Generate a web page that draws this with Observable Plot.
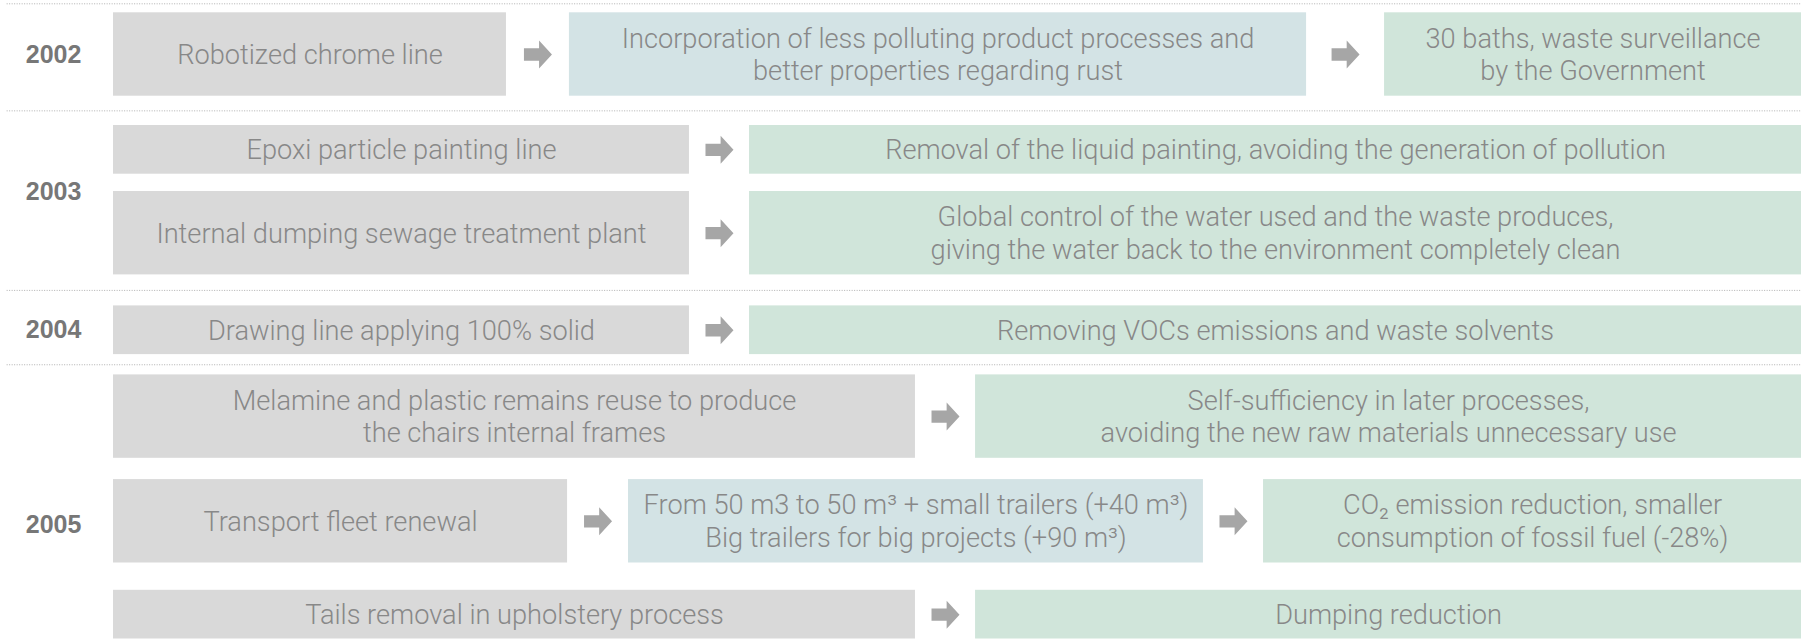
<!DOCTYPE html>
<html>
<head>
<meta charset="utf-8">
<script src="https://cdn.jsdelivr.net/npm/d3@7"></script>
<script src="https://cdn.jsdelivr.net/npm/@observablehq/plot@0.6"></script>
<style>
  html, body { margin: 0; padding: 0; background: #ffffff; }
  #chart svg { display: block; }
</style>
</head>
<body>
<div id="chart"></div>
<script>
// ---------------- DATA ----------------
const years = ["2002", "2003", "2004", "2005"];
const rowYear = ["2002", "2003", "2003", "2004", "2005", "2005", "2005"];
const rowSteps = [
  ["Robotized chrome line",
   "Incorporation of less polluting product processes and\nbetter properties regarding rust",
   "30 baths, waste surveillance\nby the Government"],
  ["Epoxi particle painting line",
   "Removal of the liquid painting, avoiding the generation of pollution"],
  ["Internal dumping sewage treatment plant",
   "Global control of the water used and the waste produces,\ngiving the water back to the environment completely clean"],
  ["Drawing line applying 100% solid",
   "Removing VOCs emissions and waste solvents"],
  ["Melamine and plastic remains reuse to produce\nthe chairs internal frames",
   "Self-sufficiency in later processes,\navoiding the new raw materials unnecessary use"],
  ["Transport fleet renewal",
   "From 50 m3 to 50 m\u00B3 + small trailers (+40 m\u00B3)\nBig trailers for big projects (+90 m\u00B3)",
   "CO\u2082 emission reduction, smaller\nconsumption of fossil fuel (-28%)"],
  ["Tails removal in upholstery process",
   "Dumping reduction"]
];
const rowKinds = [
  ["action", "measure", "result"],
  ["action", "result"],
  ["action", "result"],
  ["action", "result"],
  ["action", "result"],
  ["action", "measure", "result"],
  ["action", "result"]
];
const kindNames = ["action", "measure", "result"];

// ---------------- LAYOUT / STYLE ----------------
const kindColors = ["#d9d9d9", "#d3e3e5", "#d0e5da"];
// box boundaries along a 0–100 track, per row: [start, end, start, end, ...]
const colBounds = [
  [0, 23.28, 27.01, 70.68, 75.30, 100],
  [0, 34.12, 37.68, 100],
  [0, 34.12, 37.68, 100],
  [0, 34.12, 37.68, 100],
  [0, 47.51, 51.07, 100],
  [0, 26.90, 30.51, 64.57, 68.13, 100],
  [0, 47.51, 51.07, 100]
];
const rowGap = [12.3, 29.3, 17.3, 31, 20.3, 21.3, 27.3]; // space before each row
const boxHeightByLines = [0, 48.7, 83.4];
const yearAnchorRow = [0, 1.5, 3, 5.04];
const topRule = 3.3;
const yearX = -3.55, ruleX1 = -6.3;
const W = 1812, H = 642;

// ---------------- BUILD ----------------
const boxes = [], arrows = [], rowCenters = [], rowTops = [], rowBottoms = [];
let cursor = 0;
rowSteps.forEach((steps, i) => {
  const lines = Math.max(...steps.map(t => t.split("\n").length));
  const y1 = cursor + rowGap[i];
  const y2 = y1 + boxHeightByLines[lines];
  cursor = y2;
  rowTops.push(y1); rowBottoms.push(y2); rowCenters.push((y1 + y2) / 2);
  steps.forEach((text, j) => {
    boxes.push({
      year: rowYear[i], text, kind: rowKinds[i][j],
      x1: colBounds[i][2 * j], x2: colBounds[i][2 * j + 1], y1, y2
    });
    if (j < steps.length - 1) {
      arrows.push({x: (colBounds[i][2 * j + 1] + colBounds[i][2 * j + 2]) / 2, y: (y1 + y2) / 2});
    }
  });
});
const separators = [topRule];
for (let i = 1; i < rowYear.length; i++) {
  if (rowYear[i] !== rowYear[i - 1]) separators.push((rowBottoms[i - 1] + rowTops[i]) / 2);
}
const yearLabels = years.map((yr, k) => {
  const a = yearAnchorRow[k], lo = Math.floor(a), hi = Math.min(Math.ceil(a), rowCenters.length - 1);
  const next = hi === lo ? rowCenters[lo] + (rowCenters[Math.min(lo + 1, rowCenters.length - 1)] - rowCenters[lo]) : rowCenters[hi];
  const y = rowCenters[lo] + (next - rowCenters[lo]) * (a - lo);
  return {year: yr, y};
});

const arrowSymbol = {
  draw(context, size) {
    const r = Math.sqrt(size / Math.PI);
    const bh = 0.44 * r, split = 0.08 * r;
    context.moveTo(-r, -bh);
    context.lineTo(split, -bh);
    context.lineTo(split, -r);
    context.lineTo(r, 0);
    context.lineTo(split, r);
    context.lineTo(split, bh);
    context.lineTo(-r, bh);
    context.closePath();
  }
};

const chart = Plot.plot({
  width: W,
  height: H,
  marginLeft: 113,
  marginRight: 11,
  marginTop: 0,
  marginBottom: 0,
  x: {domain: [0, 100], axis: null},
  y: {domain: [0, H], range: [0, H], axis: null},
  color: {domain: kindNames, range: kindColors},
  style: {background: "#ffffff"},
  marks: [
    Plot.ruleY(separators, {y: d => d, x1: () => ruleX1, x2: () => 100,
      stroke: "#b0b0b0", strokeWidth: 1, strokeDasharray: "1,1.5"}),
    Plot.rect(boxes, {x1: "x1", x2: "x2", y1: "y1", y2: "y2", fill: "kind"}),
    Plot.text(boxes, {
      x: d => (d.x1 + d.x2) / 2, y: d => (d.y1 + d.y2) / 2 - 1, text: "text",
      fill: "#888888", fontSize: 27.2, fontFamily: "Roboto, 'Liberation Sans', sans-serif",
      fontWeight: 300, lineHeight: 1.2
    }),
    Plot.dot(arrows, {x: "x", y: "y", r: 14, symbol: arrowSymbol, fill: "#a6a6a6", stroke: "none"}),
    Plot.text(yearLabels, {
      x: () => yearX, y: "y", text: "year",
      fill: "#777777", fontSize: 25, fontWeight: "bold",
      fontFamily: "'Liberation Sans', Arial, sans-serif"
    })
  ]
});
document.getElementById("chart").appendChild(chart);
</script>
</body>
</html>
